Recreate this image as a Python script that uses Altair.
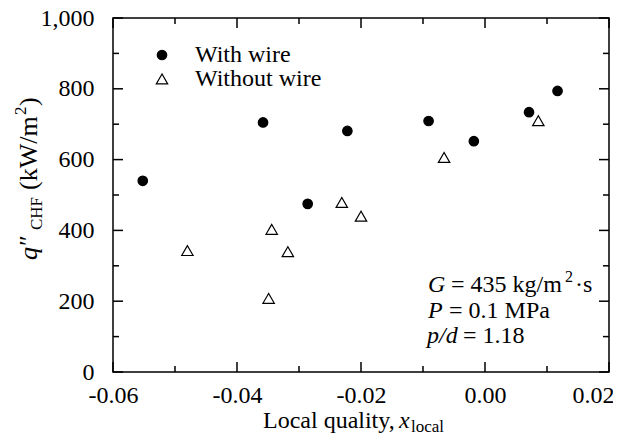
import altair as alt
import pandas as pd

# ---------------- data ----------------
series_names = ["With wire", "Without wire"]
wire_x = [-0.0552, -0.0358, -0.0286, -0.0222, -0.0091, -0.0018, 0.0071, 0.0117]
wire_q = [540, 705, 475, 681, 709, 652, 734, 794]
nowire_x = [-0.0480, -0.0344, -0.0318, -0.0349, -0.0231, -0.0200, -0.0066, 0.0086]
nowire_q = [343, 403, 340, 208, 479, 440, 606, 710]
x_major = [-0.06, -0.04, -0.02, 0.0, 0.02]
x_minor = [-0.05, -0.03, -0.01, 0.01]
y_major = [0, 200, 400, 600, 800, 1000]
y_minor = [100, 300, 500, 700, 900]

# ---------------- layout ----------------
W, H = 496, 354
FONT = "Liberation Serif"
FS = 24
TS = 24
SUB = 17

df = pd.DataFrame({
    "x": wire_x + nowire_x,
    "q": wire_q + nowire_q,
    "series": [series_names[0]] * len(wire_x) + [series_names[1]] * len(nowire_x),
})

xs = alt.Scale(domain=[-0.06, 0.02], nice=False, zero=False)
ys = alt.Scale(domain=[0, 1000], nice=False, zero=False)
x_axis = alt.Axis(values=x_major, title=None, ticks=False, domain=False, grid=False,
                  labelExpr="datum.value < 0 ? '-' + format(abs(datum.value), '.2f') : format(datum.value, '.2f')",
                  labelPadding=11, labelFlush=False, labelFont=FONT, labelFontSize=FS,
                  labelColor="black",
                  labelOffset={"condition": {"test": "datum.value > 0.015", "value": -16}, "value": 0})
y_axis = alt.Axis(values=y_major, title=None, ticks=False, domain=False, grid=False,
                  format=",d", labelPadding=19, labelFont=FONT, labelFontSize=FS,
                  labelColor="black")

legend = alt.Legend(title=None, orient="none", legendX=37, legendY=25, padding=0,
                    labelFont=FONT, labelFontSize=FS, labelColor="black",
                    symbolSize=100, symbolStrokeColor="black", symbolStrokeWidth=1.2,
                    labelOffset=21, rowPadding=-2)

points = alt.Chart(df).mark_point(opacity=1, strokeWidth=1.2).encode(
    x=alt.X("x:Q", scale=xs, axis=x_axis),
    y=alt.Y("q:Q", scale=ys, axis=y_axis),
    shape=alt.Shape("series:N", scale=alt.Scale(domain=series_names, range=["circle", "triangle-up"]), legend=legend),
    fill=alt.Fill("series:N", scale=alt.Scale(domain=series_names, range=["black", "white"]), legend=legend),
    stroke=alt.Stroke("series:N", scale=alt.Scale(domain=series_names, range=["black", "black"]), legend=legend),
    size=alt.Size("series:N", scale=alt.Scale(domain=series_names, range=[90, 130]), legend=legend),
)


def xticks(vals, length, top):
    d = pd.DataFrame({"x": vals})
    y0 = 0 if top else H
    y1 = length if top else H - length
    return alt.Chart(d).mark_rule(color="black", strokeWidth=1.5).encode(
        x=alt.X("x:Q", scale=xs, axis=x_axis), y=alt.value(y0), y2=alt.value(y1))


def yticks(vals, length, right):
    d = pd.DataFrame({"q": vals})
    x0 = W if right else 0
    x1 = W - length if right else length
    return alt.Chart(d).mark_rule(color="black", strokeWidth=1.5).encode(
        y=alt.Y("q:Q", scale=ys, axis=y_axis), x=alt.value(x0), x2=alt.value(x1))


one = pd.DataFrame({"k": [0]})


def txt(s, x, y, size=FS, style="normal", angle=0):
    return alt.Chart(one).mark_text(text=s, font=FONT, fontSize=size, fontStyle=style,
                                    angle=angle, align="left", baseline="alphabetic",
                                    color="black").encode(x=alt.value(x), y=alt.value(y))


texts = [
    # annotation
    txt("G", 315, 274, style="italic"),
    txt("= 435 kg/m", 338, 274),
    txt("2", 452, 264, size=16),
    txt("\u00b7s", 462, 274),
    txt("P", 315, 300, style="italic"),
    txt("= 0.1 MPa", 336, 300),
    txt("p/d", 314, 325, style="italic"),
    txt("= 1.18", 350, 325),
    # x title
    txt("Local quality,", 150, 410, size=TS),
    txt("x", 286, 410, size=TS, style="italic"),
    txt("local", 298, 414, size=SUB),
    # y title (rotated)
    txt("q", -76, 242, size=26, style="italic", angle=270),
    txt("\u2033", -76, 228, size=26, angle=270),
    txt("CHF", -71, 212, size=SUB, angle=270),
    txt("(kW/m", -76, 172, size=26, angle=270),
    txt("2", -87, 97, size=SUB, angle=270),
    txt(")", -76, 88, size=26, angle=270),
]

layers = [xticks(x_major, 10, False), xticks(x_minor, 6, False),
          xticks(x_major, 10, True), xticks(x_minor, 6, True),
          yticks(y_major, 10, False), yticks(y_minor, 6, False),
          yticks(y_major, 10, True), yticks(y_minor, 6, True),
          points] + texts

chart = alt.layer(*layers).properties(
    width=W, height=H,
    autosize=alt.AutoSizeParams(type="none"),
    padding={"left": 105, "top": 10, "right": 4, "bottom": 63},
).configure_view(stroke="black", strokeWidth=1.5)

chart.save("out.html", embed_options={"renderer": "svg", "actions": False})
